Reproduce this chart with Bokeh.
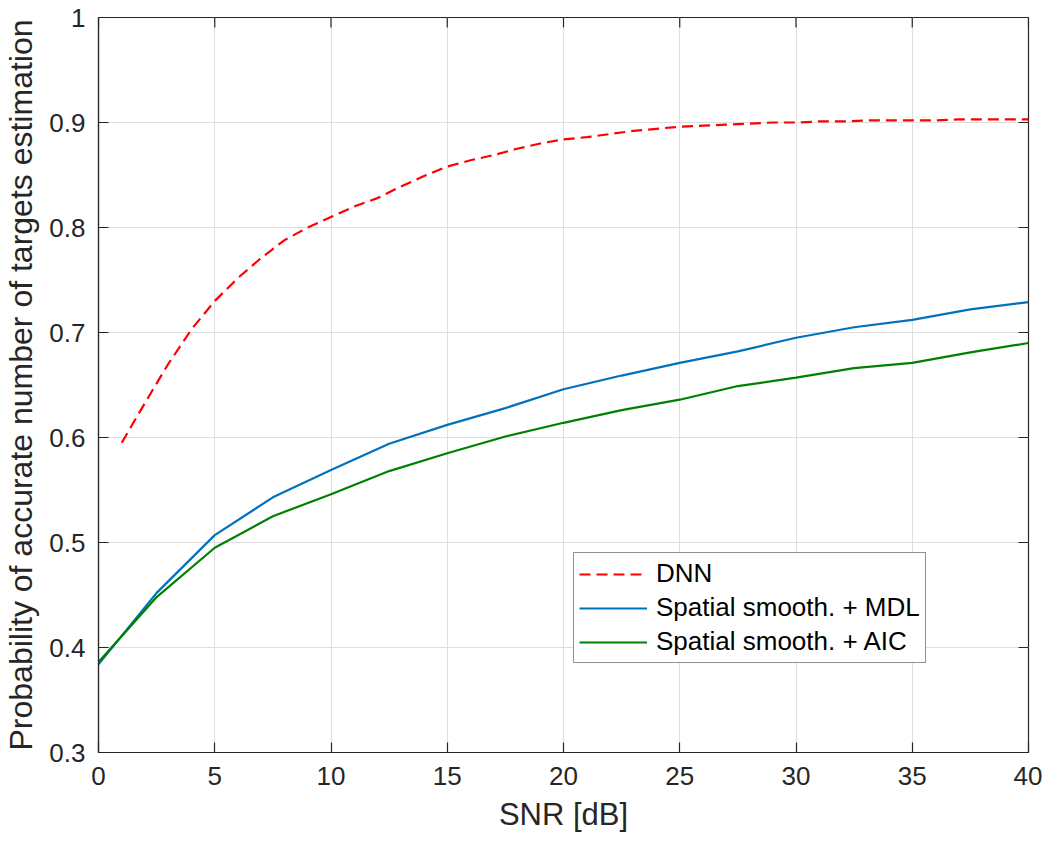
import math

from bokeh.plotting import figure
from bokeh.models import FixedTicker, Legend, LegendItem, Range1d
from bokeh.embed import file_html
from bokeh.resources import INLINE

# SNR sweep of the DNN estimator (dB) and its detection probability
dnn_snr = list(range(1, 41))
dnn_prob = [0.595, 0.633, 0.670, 0.703, 0.730, 0.752, 0.771, 0.788, 0.800, 0.810,
            0.820, 0.828, 0.839, 0.849, 0.858, 0.864, 0.869, 0.875, 0.880, 0.884,
            0.886, 0.889, 0.892, 0.894, 0.896, 0.897, 0.898, 0.899, 0.900, 0.900,
            0.901, 0.901, 0.902, 0.902, 0.902, 0.902, 0.903, 0.903, 0.903, 0.903]

# SNR sweep of the subspace-based estimators (dB)
ss_snr = [0, 2.5, 5, 7.5, 10, 12.5, 15, 17.5, 20, 22.5, 25, 27.5, 30, 32.5, 35, 37.5, 40]
mdl_prob = [0.384, 0.452, 0.507, 0.543, 0.569, 0.594, 0.612, 0.628, 0.646,
            0.659, 0.671, 0.682, 0.695, 0.705, 0.712, 0.722, 0.729]
aic_prob = [0.386, 0.448, 0.495, 0.525, 0.546, 0.568, 0.585, 0.601, 0.614,
            0.626, 0.636, 0.649, 0.657, 0.666, 0.671, 0.681, 0.690]

series_names = ["DNN", "Spatial smooth. + MDL", "Spatial smooth. + AIC"]

x_ticks = [0, 5, 10, 15, 20, 25, 30, 35, 40]
y_ticks = [0.3, 0.4, 0.5, 0.6, 0.7, 0.8, 0.9, 1.0]
y_tick_labels = ["0.3", "0.4", "0.5", "0.6", "0.7", "0.8", "0.9", "1"]

FONT = "Liberation Sans"
AXIS_COLOR = "#262626"
TICK_LEN = 10

p = figure(width=1042, height=844, output_backend="svg", toolbar_location=None,
           x_range=Range1d(0, 40), y_range=Range1d(0.3, 1.0),
           x_axis_label="SNR [dB]",
           y_axis_label="Probability of accurate number of targets estimation",
           min_border_left=97, min_border_right=14, min_border_top=17,
           min_border_bottom=92)
p.background_fill_color = "white"
p.border_fill_color = "white"
p.outline_line_color = AXIS_COLOR
p.outline_line_width = 1.2

for ax, ticks in ((p.xaxis[0], x_ticks), (p.yaxis[0], y_ticks)):
    ax.ticker = FixedTicker(ticks=ticks)
    ax.axis_line_color = AXIS_COLOR
    ax.axis_line_width = 1.2
    ax.major_tick_line_color = AXIS_COLOR
    ax.major_tick_line_width = 1.2
    ax.major_tick_in = TICK_LEN
    ax.major_tick_out = 0
    ax.minor_tick_line_color = None
    ax.major_label_text_font = FONT
    ax.major_label_text_font_size = "26px"
    ax.major_label_text_color = AXIS_COLOR
    ax.axis_label_text_font = FONT
    ax.axis_label_text_font_style = "normal"
    ax.axis_label_text_color = AXIS_COLOR

p.xaxis[0].axis_label_text_font_size = "31px"
p.xaxis[0].major_label_standoff = 14
p.xaxis[0].axis_label_standoff = 9
p.yaxis[0].axis_label_text_font_size = "32px"
p.yaxis[0].major_label_standoff = 13
p.yaxis[0].axis_label_standoff = 7
p.yaxis[0].major_label_overrides = {v: s for v, s in zip(y_ticks, y_tick_labels)}

# inward ticks along the top and right edges of the box
p.ray(x=x_ticks, y=[p.y_range.end] * len(x_ticks), length=TICK_LEN,
      length_units="screen", angle=-math.pi / 2,
      line_color=AXIS_COLOR, line_width=1.2)
p.ray(x=[p.x_range.end] * len(y_ticks), y=y_ticks, length=TICK_LEN,
      length_units="screen", angle=math.pi,
      line_color=AXIS_COLOR, line_width=1.2)

p.xgrid.ticker = FixedTicker(ticks=x_ticks)
p.ygrid.ticker = FixedTicker(ticks=y_ticks)
for g in (p.xgrid[0], p.ygrid[0]):
    g.grid_line_color = "#dedede"
    g.grid_line_width = 1

r_dnn = p.line(dnn_snr, dnn_prob, line_color="#ff0000", line_width=2.2,
               line_dash="11 6")
r_mdl = p.line(ss_snr, mdl_prob, line_color="#0072bd", line_width=2.2)
r_aic = p.line(ss_snr, aic_prob, line_color="#008000", line_width=2.2)

legend = Legend(items=[LegendItem(label=series_names[0], renderers=[r_dnn]),
                       LegendItem(label=series_names[1], renderers=[r_mdl]),
                       LegendItem(label=series_names[2], renderers=[r_aic])],
                location=(475, 89))
legend.margin = 0
legend.padding = 5
legend.spacing = 3
legend.label_height = 24
legend.glyph_height = 24
legend.glyph_width = 68
legend.label_standoff = 9
legend.label_text_font = FONT
legend.label_text_font_size = "26px"
legend.label_text_color = "#000000"
legend.border_line_color = AXIS_COLOR
legend.border_line_width = 1.2
legend.background_fill_color = "white"
legend.background_fill_alpha = 1.0
p.add_layout(legend, "center")

open("out.html", "w").write(file_html(p, INLINE))
